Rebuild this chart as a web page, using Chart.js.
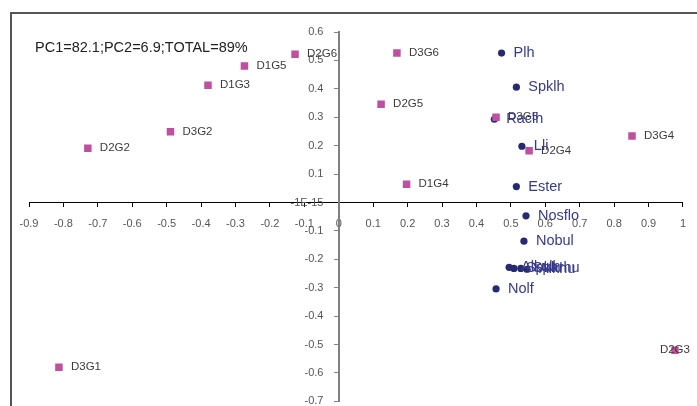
<!DOCTYPE html>
<html lang="en">
<head>
  <meta charset="UTF-8" />
  <title>PCA biplot</title>
  <script src="https://cdn.jsdelivr.net/npm/chart.js"></script>
  <style>
    body { margin: 0; background: #fff; font-family: "Liberation Sans", Arial, sans-serif; }
    #wrap { position: relative; width: 697px; height: 406px; overflow: hidden; }
    #frame { position: absolute; left: 10px; top: 12px; width: 720px; height: 420px;
             border-left: 2px solid #555; border-top: 2px solid #555; }
    #note { position: absolute; left: 35px; top: 39px; font-size: 14.5px; color: #222; white-space: nowrap; }
    canvas { position: absolute; left: 0; top: 0; }
  </style>
</head>
<body>
<div id="wrap">
  <div id="frame"></div>
  <!-- a little taller than the window: the axis label padding eats the bottom 18px -->
  <canvas id="pca" width="697" height="418"></canvas>
  <div id="note">PC1=82.1;PC2=6.9;TOTAL=89%</div>
</div>

<script>
  // samples (pink squares)
  const sampleNames = ["D3G1", "D2G2", "D3G2", "D1G3", "D1G5", "D2G6", "D3G6", "D2G5", "D3G5", "D3G4", "D2G4", "D1G4", "D2G3"];
  const sampleX = [-0.813, -0.729, -0.489, -0.380, -0.274, -0.127, 0.169, 0.123, 0.457, 0.852, 0.553, 0.197, 0.977];
  const sampleY = [-0.580, 0.191, 0.249, 0.413, 0.480, 0.522, 0.526, 0.346, 0.300, 0.234, 0.182, 0.064, -0.520];

  // variables (navy dots)
  const varNames = ["Plh", "Spklh", "Raclh", "Lli", "Ester", "Nosflo", "Nobul", "Alkulh", "Spklu", "Sparhu", "Alkhu", "Nolf"];
  const varX = [0.473, 0.516, 0.452, 0.532, 0.516, 0.544, 0.538, 0.495, 0.509, 0.529, 0.547, 0.457];
  const varY = [0.526, 0.406, 0.293, 0.198, 0.056, -0.047, -0.136, -0.228, -0.232, -0.232, -0.235, -0.304];

  const xTicks = { min: -0.9, max: 1, step: 0.1 };
  const yTicks = { min: -0.7, max: 0.6, step: 0.1 };

  const toPoints = (xs, ys) => xs.map((x, i) => ({ x: x, y: ys[i] }));

  // draws the name next to each point
  const pointNames = {
    id: "pointNames",
    afterDatasetsDraw(chart) {
      const ctx = chart.ctx;
      const area = chart.chartArea;
      ctx.save();
      ctx.textBaseline = "middle";
      ctx.textAlign = "left";
      chart.data.datasets.forEach((ds, di) => {
        const meta = chart.getDatasetMeta(di);
        ctx.font = ds.nameFont;
        ctx.fillStyle = ds.nameColor;
        meta.data.forEach((pt, i) => {
          const txt = ds.names[i];
          let x = pt.x + 12;
          const w = ctx.measureText(txt).width;
          if (x + w > area.right + 7) x = area.right + 7 - w;
          ctx.fillText(txt, x, pt.y);
        });
      });
      ctx.restore();
    }
  };

  const fmt = v => String(Math.round(v * 10) / 10);
  // y labels sit flush on a positioned axis, so pad them away from it
  const yGap = "     ";

  new Chart(document.getElementById("pca"), {
    type: "scatter",
    data: {
      datasets: [
        {
          label: "Samples",
          data: toPoints(sampleX, sampleY),
          names: sampleNames,
          nameFont: "11.5px 'Liberation Sans', Arial, sans-serif",
          nameColor: "#3a3a3a",
          pointStyle: "rect",
          pointRadius: 5.3,
          backgroundColor: "#bf4f9f",
          borderColor: "#bf4f9f",
          borderWidth: 0
        },
        {
          label: "Variables",
          data: toPoints(varX, varY),
          names: varNames,
          nameFont: "14.5px 'Liberation Sans', Arial, sans-serif",
          nameColor: "#363a8c",
          pointStyle: "circle",
          pointRadius: 3.6,
          backgroundColor: "#262a72",
          borderColor: "#262a72",
          borderWidth: 0
        }
      ]
    },
    options: {
      responsive: false,
      animation: false,
      layout: { padding: { left: 29, right: 14, top: 32, bottom: 0 } },
      plugins: {
        legend: { display: false },
        tooltip: { enabled: false }
      },
      scales: {
        x: {
          type: "linear",
          position: { y: 0 },
          min: xTicks.min,
          max: xTicks.max,
          afterFit: s => { s.height = 0; },
          border: { color: "#000", width: 1 },
          grid: { drawOnChartArea: false, drawTicks: true, tickLength: 4, color: "#000" },
          ticks: {
            stepSize: xTicks.step,
            autoSkip: false,
            maxRotation: 0,
            padding: 11,
            color: "#555",
            font: { size: 11, family: "'Liberation Sans', Arial, sans-serif" },
            callback: v => fmt(v)
          }
        },
        y: {
          type: "linear",
          position: { x: 0 },
          min: yTicks.min,
          max: yTicks.max,
          afterFit: s => { s.width = 0; },
          border: { color: "#808080", width: 2 },
          grid: { drawOnChartArea: false, drawTicks: true, tickLength: 4, color: "#808080" },
          ticks: {
            stepSize: yTicks.step,
            autoSkip: false,
            padding: 10,
            color: "#555",
            font: { size: 11, family: "'Liberation Sans', Arial, sans-serif" },
            callback: v => (Math.abs(v) < 1e-9 ? "-1E-15" : fmt(v)) + yGap
          }
        }
      }
    },
    plugins: [pointNames]
  });
</script>
</body>
</html>
